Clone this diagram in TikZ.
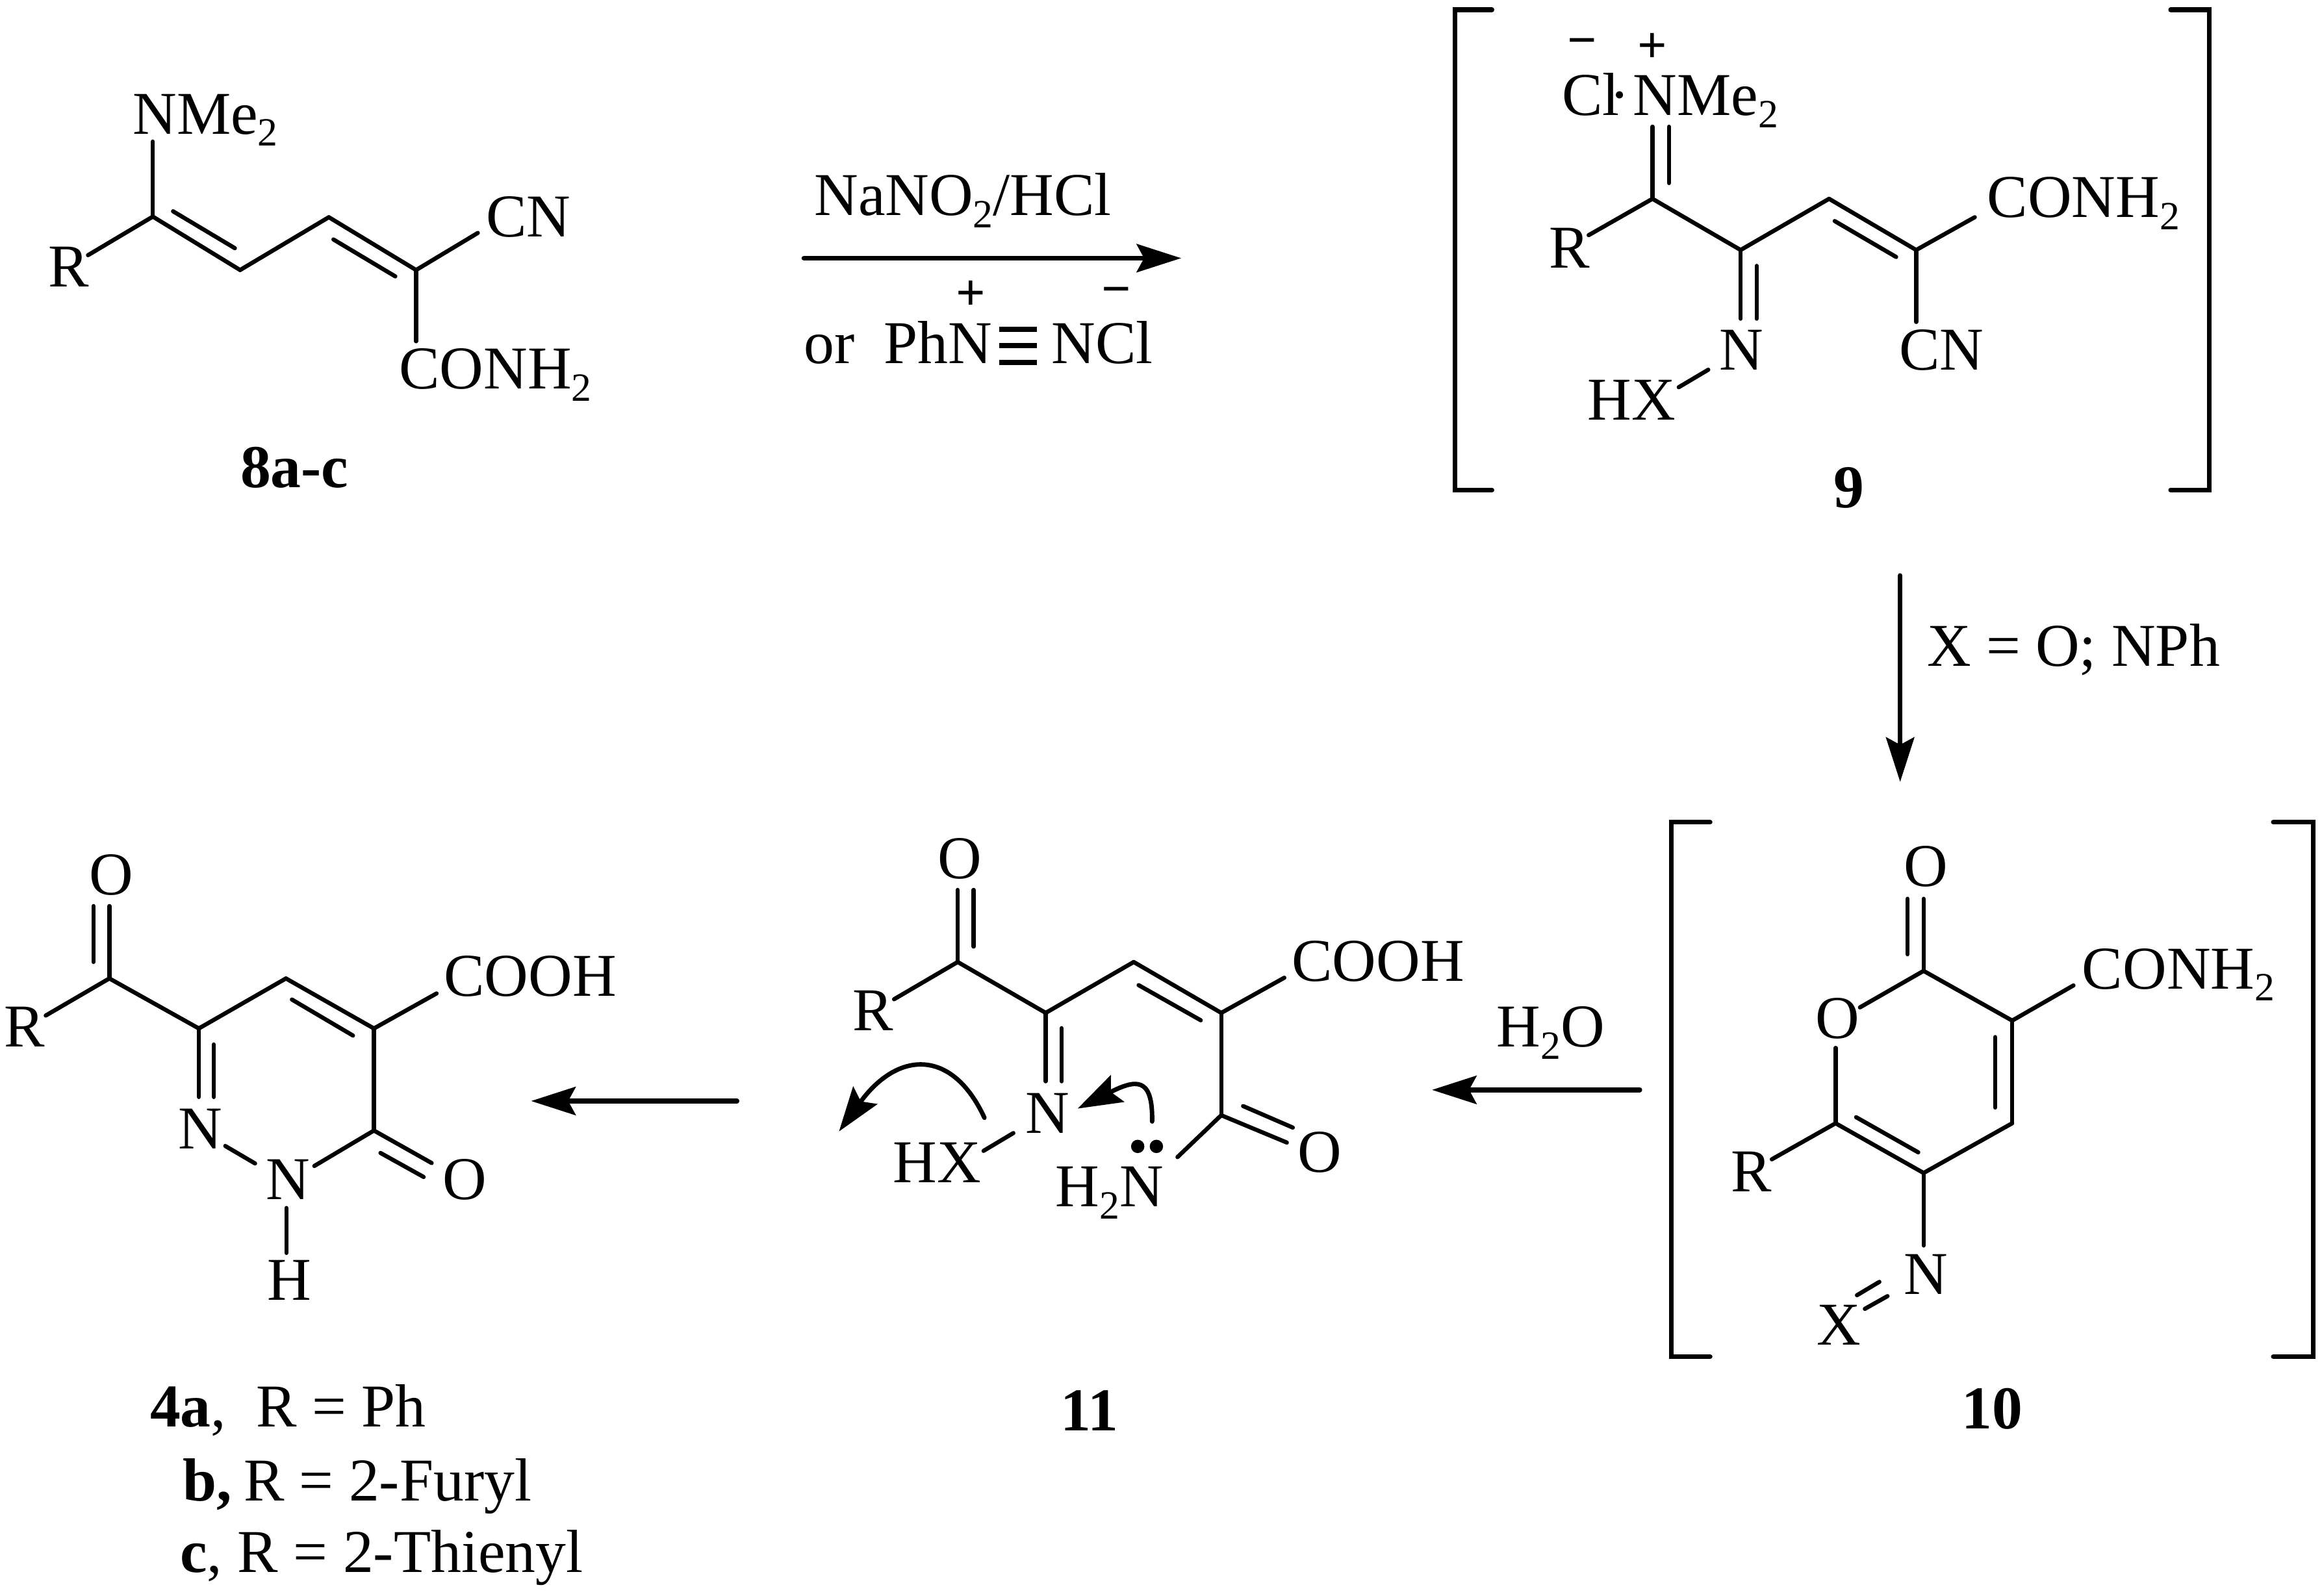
\documentclass[tikz,border=0pt]{standalone}
\usepackage{fontspec}
\setmainfont{Liberation Serif}
\usetikzlibrary{arrows.meta}
\newcommand{\lowtwo}{\raisebox{-0.2em}{\fontsize{27}{27}\selectfont 2}}
\newcommand{\lab}[4]{\node[lbl] (#1) at (#2,#3) {#4};}
\newcommand{\pts}[1]{\foreach \n/\x/\y in {#1} \coordinate (\n) at (\x,\y);}
\newcommand{\bonds}[1]{\foreach \p/\q in {#1} \draw[bond] (\p) -- (\q);}
\tikzset{
  x=1pt,y=-1pt,
  lbl/.style={anchor=base west,inner sep=0pt,outer sep=0pt,font=\fontsize{41}{41}\selectfont},
  chg/.style={anchor=center,inner sep=0pt,outer sep=0pt,font=\bfseries\fontsize{35}{35}\selectfont},
  bond/.style={line width=2.8pt,line cap=round},
  brk/.style={line width=3.2pt,line cap=round,line join=miter},
  tbar/.style={line width=3.4pt},
  rxn/.style={line width=3.3pt,line cap=round,-{Stealth[length=30pt,width=19pt,inset=5pt]}},
  curly/.style={line width=3pt,line cap=round,-{Stealth[length=30pt,width=20pt,inset=5pt]}},
  lpdot/.style={circle,fill=black,inner sep=0pt,minimum size=9pt}
}
\begin{document}
\begin{tikzpicture}
\useasboundingbox (0,0) rectangle (1564.8,1075.7);
% ---------- 8a-c
\pts{a1/103/146,a2/161.8/182,a3/221.6/146.4,a4/280.4/182,aN/103/95.4,aR/59.3/172,aCN/322/157,aCO/280.4/230,
     ai1/116.6/142.4,ai2/158.3/167.3,ai3/224.7/161.4,ai4/266.4/186.3}
\bonds{a1/a2,a2/a3,a3/a4,a1/aN,a1/aR,a4/aCN,a4/aCO,ai1/ai2,ai3/ai4}
\lab{lNMe}{89.5}{90.2}{NMe\lowtwo}
\lab{lR8}{32.7}{193.4}{R}
\lab{lCN8}{327.7}{159.5}{CN}
\lab{lCO8}{269}{262}{CONH\lowtwo}
\lab{l8}{162}{328.7}{\bfseries 8a-c}
% ---------- reagents arrow
\pts{r1s/541.8/174,r1e/796/174,t1a/673.5/222,t1b/698.6/222,t2a/673.5/233,t2b/698.6/233,t3a/673.5/244.4,t3b/698.6/244.4}
\draw[rxn] (r1s) -- (r1e);
\lab{lNa}{548.8}{145.2}{NaNO\lowtwo/HCl}
\lab{lor}{541.8}{245}{or}
\lab{lPh}{595.6}{245}{PhN}
\lab{lNCl}{708.7}{245}{NCl}
\node[chg] (pl1) at (654.4,199.3) {+};
\node[chg] (mi1) at (752.4,199.8) {−};
\draw[tbar] (t1a) -- (t1b);
\draw[tbar] (t2a) -- (t2b);
\draw[tbar] (t3a) -- (t3b);
% ---------- 9
\pts{b1/1113.6/134,b2/1173/168.5,b3/1232.6/134,b4/1291.3/168.5,bNt/1113.6/85.4,bi1/1124.7/85.4,bi2/1124.7/123.4,
     bR/1070.6/158.5,bi3/1236.4/149,bi4/1277.8/173.2,bCO/1330.8/146.4,bCN/1291.3/217,bNb/1173/214.8,
     bi5/1183.8/179.2,bi6/1183.8/214.8,bn/1151.2/249.2,bx/1131.3/261}
\bonds{b1/b2,b2/b3,b3/b4,b1/bNt,bi1/bi2,b1/bR,bi3/bi4,b4/bCO,b4/bCN,b2/bNb,bi5/bi6,bn/bx}
\lab{lCl}{1052.6}{77.8}{Cl}
\lab{lDot}{1084.5}{77.8}{·}
\lab{lNMe9}{1100.5}{77.8}{NMe\lowtwo}
\node[chg] (mi2) at (1066,32.5) {−};
\node[chg] (pl2) at (1113.6,32.5) {+};
\lab{lR9}{1043.8}{180.8}{R}
\lab{lCO9}{1339.2}{146.4}{CONH\lowtwo}
\lab{lCN9}{1279.8}{249.2}{CN}
\lab{lN9}{1158.9}{249.2}{N}
\lab{lHX9}{1069.9}{282.9}{HX}
\lab{l9}{1235.6}{342}{\bfseries 9}
\pts{bl1/1005.4/6.6,bl2/980.5/6.6,bl3/980.5/330.3,bl4/1005.4/330.3,br1/1462.8/6.6,br2/1488.9/6.6,br3/1488.9/330.3,br4/1462.8/330.3}
\draw[brk] (bl1) -- (bl2) -- (bl3) -- (bl4);
\draw[brk] (br1) -- (br2) -- (br3) -- (br4);
% ---------- arrow 9 to 10
\pts{r2s/1280.5/388,r2e/1280.5/527}
\draw[rxn] (r2s) -- (r2e);
\lab{lXO}{1298.6}{449}{X = O; NPh}
% ---------- 10
\pts{c2/1296.3/654.4,c3/1356/687.9,c4/1356/757.1,c5/1296.3/790.6,c6/1237/757.1,cOt/1296.3/605.8,
     ci1/1285.5/605.8,ci2/1285.5/643.2,cO1/1253.4/679,cO2/1237/706.3,ci3/1344.5/699,ci4/1344.5/746.5,
     ci5/1250.8/753,ci6/1292.7/776.7,cCO/1397.3/664.2,cR/1194/781.4,cN/1296.3/839.5,
     cd1/1251.4/873,cd2/1266.5/864,cd3/1256.7/882.2,cd4/1272/873.6}
\bonds{c2/c3,c3/c4,c4/c5,c5/c6,c2/cOt,ci1/ci2,c2/cO1,c6/cO2,ci3/ci4,ci5/ci6,c3/cCO,c6/cR,c5/cN,cd1/cd2,cd3/cd4}
\lab{lOt}{1282.9}{597.4}{O}
\lab{lOr}{1223.6}{699.9}{O}
\lab{lCO10}{1403.2}{666.4}{CONH\lowtwo}
\lab{lR10}{1166.5}{803.2}{R}
\lab{lN10}{1282.9}{872.4}{N}
\lab{lX10}{1224.5}{906.5}{X}
\lab{l10}{1322.2}{963}{\bfseries 10}
\pts{cl1/1152.4/554.2,cl2/1126.2/554.2,cl3/1126.2/914.3,cl4/1152.4/914.3,cr1/1532/554.2,cr2/1558.9/554.2,cr3/1558.9/914.3,cr4/1532/914.3}
\draw[brk] (cl1) -- (cl2) -- (cl3) -- (cl4);
\draw[brk] (cr1) -- (cr2) -- (cr3) -- (cr4);
% ---------- arrow 10 to 11
\pts{r3s/1105/734.6,r3e/965/734.6}
\draw[rxn] (r3s) -- (r3e);
\node[lbl] (lH2O) at (1008.6,705.6) {H\lowtwo O};
% ---------- 11
\pts{d1/645.4/648.4,d2/704.7/682.7,d3/764/648.4,d4/823/682.7,d5/823/751.7,dOt/645.4/599.8,di1/656.1/599.8,di2/656.1/638,
     dR/602.5/673.5,di3/767.3/664,di4/809.2/687.7,dCO/865.5/659,dO1/867.2/770.1,di5/837.7/745.5,di6/871.2/760,
     dN2/793.5/779.9,dNb/704.7/728.8,di7/715.4/693,di8/715.4/728.8,dn/682.9/763.7,dx/662.8/775.7,
     ca1/663.4/753.4,ca2/565.4/762.6,cb1/776.4/755.9,cb2/726.2/747.2}
\bonds{d1/d2,d2/d3,d3/d4,d4/d5,d1/dOt,di1/di2,d1/dR,di3/di4,d4/dCO,d5/dO1,di5/di6,d5/dN2,d2/dNb,di7/di8,dn/dx}
\lab{lO11}{632}{592}{O}
\lab{lR11}{574.7}{694.7}{R}
\lab{lCOOH11}{870.6}{661.2}{COOH}
\lab{lOb11}{874.6}{790.2}{O}
\lab{lH2N}{711.4}{813.4}{H\lowtwo N}
\lab{lN11}{691.3}{763.7}{N}
\lab{lHX11}{601.8}{797.2}{HX}
\lab{l11}{714.7}{964.2}{\bfseries 11}
\node[lpdot] (lp1) at (766.7,772.7) {};
\node[lpdot] (lp2) at (779.3,772.7) {};
\draw[curly] (ca1) .. controls (642,707) and (605.4,707.6) .. (ca2);
\draw[curly] (cb1) .. controls (777,725) and (765,727.7) .. (cb2);
% ---------- arrow 11 to 4
\pts{r4s/496.6/742.1,r4e/357.9/742.1}
\draw[rxn] (r4s) -- (r4e);
% ---------- 4
\pts{e1/73.7/659.5,e3/134/693.2,e4/192.7/659.5,e5/252/693.2,e6/252/762,eOt/73.7/610.7,ei1/63/610.7,ei2/63/648.4,
     eR/30.8/684.5,ei3/196.7/673.7,ei4/237.9/698,eCO/294.2/669.6,eO1/290.9/783.9,ei5/256.4/777.1,ei6/285.5/793.3,
     eN1/211.8/785.9,eNb/134/739.4,ei7/144.1/704,ei8/144.1/739.4,enn1/151.8/772.4,enn2/171.9/784.2,eh1/193/814.2,eh2/193/844.5}
\bonds{e1/e3,e3/e4,e4/e5,e5/e6,e1/eOt,ei1/ei2,e1/eR,ei3/ei4,e5/eCO,e6/eO1,ei5/ei6,e6/eN1,e3/eNb,ei7/ei8,enn1/enn2,eh1/eh2}
\lab{lO4}{60.3}{602.9}{O}
\lab{lR4}{2.7}{705.7}{R}
\lab{lCOOH4}{299.2}{671.3}{COOH}
\lab{lOb4}{298.2}{808.5}{O}
\lab{lNH}{179.3}{808.5}{N}
\lab{lN4}{120}{774.1}{N}
\lab{lH4}{180.3}{876.5}{H}
\lab{cap1}{101.2}{961.8}{\textbf{4a},}
\lab{cap1b}{172.6}{961.8}{R = Ph}
\lab{cap2}{123.3}{1011.7}{\textbf{b,}}
\lab{cap2b}{164.2}{1011.7}{R = 2-Furyl}
\lab{cap3}{121.3}{1059.6}{\textbf{c},}
\lab{cap3b}{160.2}{1059.6}{R = 2-Thienyl}
\end{tikzpicture}
\end{document}
